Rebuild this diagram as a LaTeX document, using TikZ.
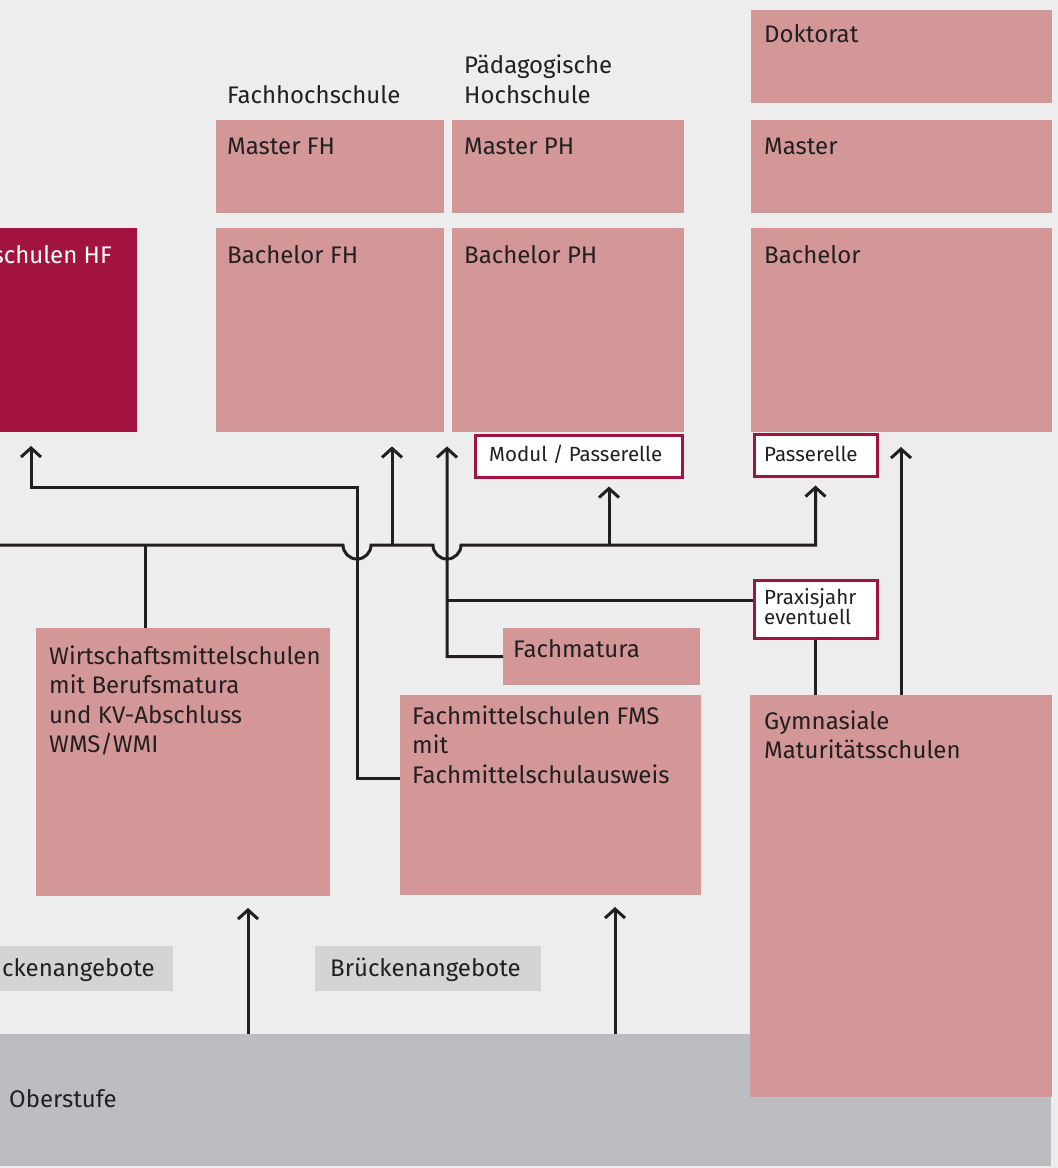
\documentclass[tikz,border=0pt]{standalone}
\usepackage{fontspec}
\setmainfont{Fira Sans}
\usetikzlibrary{arrows.meta,calc}
\definecolor{bg}{RGB}{237,237,237}
\definecolor{pinkbox}{RGB}{212,151,152}
\definecolor{darkred}{RGB}{163,19,63}
\definecolor{ober}{RGB}{188,189,193}
\definecolor{bruecke}{RGB}{211,212,214}
\definecolor{ink}{RGB}{35,31,32}
\tikzset{
  x=1pt,y=1pt,
  pbox/.style={fill=pinkbox,draw=none,inner sep=0pt},
  hfbox/.style={fill=darkred,draw=none,inner sep=0pt},
  obox/.style={fill=ober,draw=none,inner sep=0pt},
  bbox/.style={fill=bruecke,draw=none,inner sep=0pt},
  wbox/.style={fill=white,draw=darkred,line width=3pt,inner sep=0pt},
  txt/.style={font=\fontsize{24}{29.5}\selectfont,text=ink,inner sep=0pt,anchor=base west,align=left},
  smalltxt/.style={font=\fontsize{20.5}{20}\selectfont,text=ink,inner sep=0pt,anchor=base west,align=left},
  conn/.style={draw=ink,line width=3pt},
  arr/.style={conn,-{Straight Barb[length=9pt,width=20pt]}},
}
\newcommand{\rbox}[6]{\node[#6,minimum width={#4-#2},minimum height={#3-#5},anchor=north west] (#1) at (#2,#3) {};}
\begin{document}
\begin{tikzpicture}
\useasboundingbox (0,0) rectangle (1058,-1168);
\clip (0,0) rectangle (1058,-1168);
\fill[bg] (0,0) rectangle (1058,-1168);
% boxes
\rbox{hf}{-150}{-228}{137}{-432}{hfbox}
\rbox{mfh}{216}{-120}{444}{-213}{pbox}
\rbox{mph}{452}{-120}{684}{-213}{pbox}
\rbox{bfh}{216}{-228}{444}{-432}{pbox}
\rbox{bph}{452}{-228}{684}{-432}{pbox}
\rbox{dok}{751}{-10}{1052}{-103}{pbox}
\rbox{mas}{751}{-120}{1052}{-213}{pbox}
\rbox{bac}{751}{-228}{1052}{-432}{pbox}
\rbox{fm}{503}{-628}{700}{-685}{pbox}
\rbox{wms}{36}{-628}{330}{-896}{pbox}
\rbox{fms}{400}{-695}{701}{-895}{pbox}
\rbox{bru1}{-53}{-946}{173}{-991}{bbox}
\rbox{bru2}{315}{-946}{541}{-991}{bbox}
\rbox{ob}{-20}{-1034}{1051}{-1166}{obox}
\rbox{gym}{750}{-695}{1052}{-1097}{pbox}
\rbox{modul}{473.5}{-433.5}{680.5}{-475.5}{wbox}
\rbox{pas}{752.5}{-432.5}{875.5}{-474.5}{wbox}
\rbox{prax}{752.5}{-578.5}{875.5}{-636.5}{wbox}
% texts (anchor = baseline of last line)
\node[txt] (tfhs) at (227,-103) {Fachhochschule};
\node[txt] (tphs) at (464,-103) {Pädagogische\\Hochschule};
\node[txt,anchor=base east,text=white] (thf) at (112,-263) {Höhere Fachschulen HF};
\node[txt] (tmfh) at (227,-154) {Master FH};
\node[txt] (tmph) at (464,-154) {Master PH};
\node[txt] (tbfh) at (227,-263) {Bachelor FH};
\node[txt] (tbph) at (464,-263) {Bachelor PH};
\node[txt] (tdok) at (764,-42) {Doktorat};
\node[txt] (tmas) at (764,-154) {Master};
\node[txt] (tbac) at (764,-263) {Bachelor};
\node[smalltxt] (tmod) at (489,-461) {Modul / Passerelle};
\node[smalltxt] (tpas) at (764,-461) {Passerelle};
\node[smalltxt] (tprax) at (764,-624) {Praxisjahr\\eventuell};
\node[txt] (tfm) at (513,-657) {Fachmatura};
\node[txt] (twms) at (49,-752.5) {Wirtschaftsmittelschulen\\mit Berufsmatura\\und KV-Abschluss\\WMS/WMI};
\node[txt] (tfms) at (412,-783) {Fachmittelschulen FMS\\mit\\Fachmittelschulausweis};
\node[txt] (tgym) at (764,-758.5) {Gymnasiale\\Maturitätsschulen};
\node[txt,anchor=base east] (tbru1) at (155,-976) {Brückenangebote};
\node[txt] (tbru2) at (330,-976) {Brückenangebote};
\node[txt] (tob) at (9,-1107) {Oberstufe};
% junction coordinates
\coordinate (h1) at (357,-545);
\coordinate (h2) at (447,-545);
\coordinate (jw) at (145,-545);
\coordinate (jfh) at (392,-545);
\coordinate (jmod) at (609,-545);
\coordinate (lstart) at (-20,-545);
\coordinate (fmsin) at (400,-778);
\coordinate (praxin) at (447,-600);
% connectors
\draw[arr,shorten >=8pt] (lstart) -- ([xshift=-14pt]h1) arc[start angle=180,end angle=360,radius=14] -- ([xshift=-14pt]h2) arc[start angle=180,end angle=360,radius=14] -- (pas.south |- h1) -- (pas.south);
\draw[conn] (jw) -- (jw |- wms.north);
\draw[arr,shorten >=14pt] (jfh) -- (jfh |- bfh.south);
\draw[arr,shorten >=8pt] (jmod) -- (jmod |- modul.south);
\draw[arr,shorten >=14pt] (fmsin) -- (357,-778) -- (357,-487) -- (31,-487) -- (31,-432);
\draw[arr,shorten >=14pt] (fm.west) -- (447,-656.5) -- (h2 |- bph.south);
\draw[conn] (praxin) -- (prax.west |- praxin);
\draw[conn] (prax.south) -- (prax.south |- gym.north);
\draw[arr,shorten >=15pt] (901,-695) -- (901,-432);
\draw[arr,shorten >=12pt] (248,-1034) -- (248 ,-896);
\draw[arr,shorten >=12pt] (615,-1034) -- (615,-895);
\end{tikzpicture}
\end{document}
